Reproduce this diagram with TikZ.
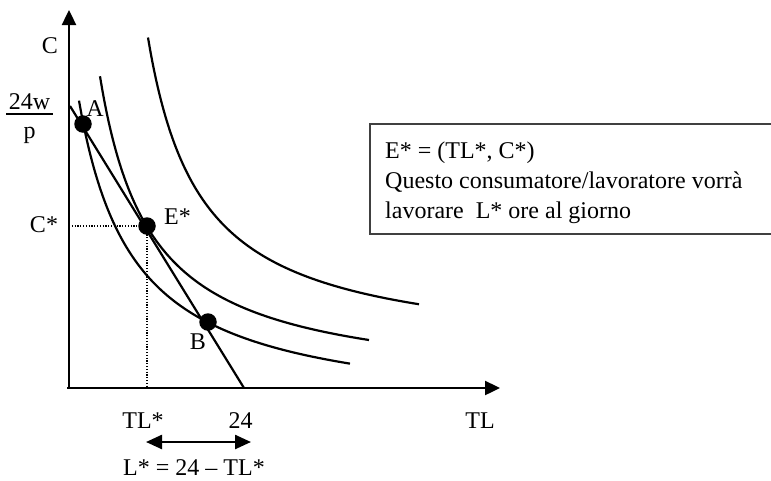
\documentclass[tikz,border=0pt]{standalone}
\usepackage{fontspec}
\setmainfont{Liberation Serif}
\usetikzlibrary{arrows.meta}
\begin{document}
\begin{tikzpicture}[x=1pt,y=-1pt,
  axis/.style={line width=2.4pt},
  curve/.style={line width=2.2pt},
  dot/.style={circle,fill=black,inner sep=0pt,minimum size=17.5pt},
  lbl/.style={font=\fontsize{24}{30}\selectfont,inner sep=0pt,anchor=base},
  boxtxt/.style={font=\fontsize{24}{30}\selectfont,inner sep=0pt,anchor=base west},
  guide/.style={line width=1.1pt,dash pattern=on 1.2pt off 1.6pt},
  tip/.style={Triangle[length=15pt,width=14pt]}
]
\useasboundingbox (0,0) rectangle (771,480);
% axes
\coordinate (O) at (69,389);
\coordinate (ytip) at (69,10);
\coordinate (xo) at (67,388);
\coordinate (xtip) at (500,388);
\draw[axis,-{Triangle[length=15pt,width=14pt]}] (O) -- (ytip);
\draw[axis,-{Triangle[length=15pt,width=14pt]}] (xo) -- (xtip);
% indifference curves
\draw[curve] plot[domain=79:350,samples=120,smooth] (\x,{417-10*(1740/(\x-24))});
\draw[curve] plot[domain=100:369,samples=120,smooth] (\x,{390-10*(1600/(\x-49))});
\draw[curve] plot[domain=148:419,samples=120,smooth] (\x,{356.4-10*(1690/(\x-95))});
% budget line
\coordinate (bl1) at (70,106);
\coordinate (bl2) at (244,388);
\draw[curve] (bl1) -- (bl2);
% guides
\coordinate (cs) at (69,226);
\coordinate (tls) at (147,388);
\node[dot] (A) at (83,124) {};
\node[dot] (E) at (147,226) {};
\node[dot] (B) at (208,322) {};
\draw[guide] (cs) -- (E.center);
\draw[guide] (E.center) -- (tls);
% labels
\node[lbl] (lC) at (50,53) {C};
\node[lbl] (lnum) at (29.5,109) {24w};
\node[lbl] (lden) at (29.5,138.5) {p};
\coordinate (bar1) at (6,114);
\coordinate (bar2) at (53,114);
\draw[line width=1.3pt] (bar1) -- (bar2);
\node[lbl] (lA) at (95,116) {A};
\node[lbl] (lCs) at (44,232) {C*};
\node[lbl] (lE) at (177.5,224) {E*};
\node[lbl] (lB) at (198,349) {B};
\node[lbl] (lTLs) at (143,428) {TL*};
\node[lbl] (l24) at (240.5,428) {24};
\node[lbl] (lTL) at (480,428) {TL};
\node[lbl] (lL) at (194,475) {L* = 24 – TL*};
% double arrow
\coordinate (da1) at (146,442);
\coordinate (da2) at (251,442);
\draw[axis,{Triangle[length=16pt,width=14pt]}-{Triangle[length=16pt,width=14pt]}] (da1) -- (da2);
% box
\coordinate (bx1) at (775,124);
\coordinate (bx2) at (370,124);
\coordinate (bx3) at (370,234);
\coordinate (bx4) at (775,234);
\draw[line width=1.5pt,black!75] (bx1) -- (bx2) -- (bx3) -- (bx4);
\node[boxtxt] (t1) at (385,158) {E* = (TL*, C*)};
\node[boxtxt] (t2) at (385,188) {Questo consumatore/lavoratore vorrà};
\node[boxtxt] (t3) at (385,218) {lavorare\ \ L* ore al giorno};
\end{tikzpicture}
\end{document}
